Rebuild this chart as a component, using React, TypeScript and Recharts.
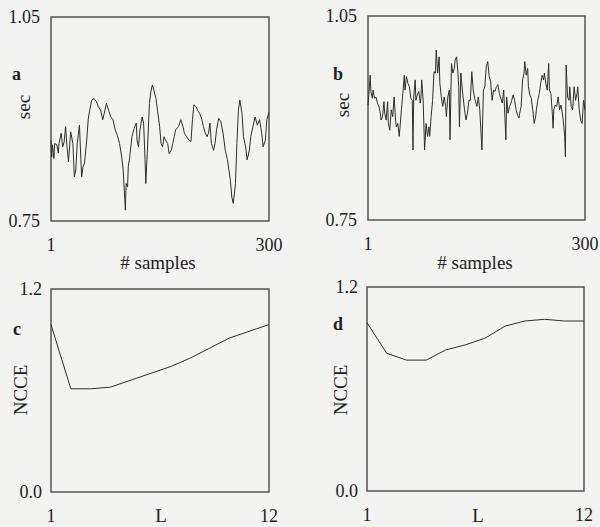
import React from "react";
import { LineChart, Line, XAxis, YAxis, ReferenceArea } from "recharts";

const FONT = '"Liberation Serif", "Times New Roman", serif';
const INK = "#2e2e2e";
const FRAME = "#555";

// panel a: interval (sec) vs sample number
const aSample = [
  1, 2, 3, 5, 6, 9, 11, 12, 15, 17, 19, 21, 23, 25, 28,
  31, 33, 35, 37, 40, 42, 43, 45, 47, 50, 52, 54, 57, 60, 63,
  66, 69, 72, 75, 77, 80, 83, 86, 89, 92, 95, 98, 100, 103, 104,
  106, 107, 109, 112, 115, 118, 119, 121, 123, 126, 128, 130, 131, 133, 136,
  138, 140, 142, 145, 147, 150, 152, 154, 156, 158, 161, 163, 166, 168, 170,
  172, 176, 179, 182, 184, 187, 190, 193, 195, 197, 200, 202, 205, 208, 210,
  212, 215, 217, 219, 221, 224, 226, 228, 231, 234, 237, 240, 243, 247, 249,
  251, 254, 256, 258, 260, 263, 265, 268, 270, 273, 275, 279, 281, 284, 287,
  290, 292, 295, 297, 300,
];
const aSec = [
  0.869, 0.844, 0.862, 0.842, 0.864, 0.862, 0.85, 0.864, 0.879, 0.859, 0.866, 0.889, 0.859, 0.837, 0.881,
  0.864, 0.815, 0.825, 0.864, 0.891, 0.84, 0.815, 0.83, 0.835, 0.869, 0.899, 0.913, 0.928, 0.93, 0.926,
  0.918, 0.913, 0.899, 0.913, 0.923, 0.913, 0.903, 0.899, 0.884, 0.876, 0.864, 0.844, 0.825, 0.766, 0.805,
  0.8, 0.83, 0.844, 0.874, 0.886, 0.894, 0.869, 0.859, 0.884, 0.903, 0.894, 0.84, 0.805, 0.849, 0.923,
  0.94, 0.95, 0.943, 0.93, 0.913, 0.889, 0.864, 0.859, 0.874, 0.869, 0.864, 0.849, 0.854, 0.864, 0.874,
  0.884, 0.889, 0.899, 0.889, 0.879, 0.874, 0.869, 0.867, 0.899, 0.921, 0.918, 0.913, 0.908, 0.899, 0.889,
  0.881, 0.874, 0.879, 0.894, 0.864, 0.854, 0.864, 0.884, 0.901, 0.896, 0.879, 0.854, 0.84, 0.81, 0.785,
  0.776, 0.805, 0.864, 0.913, 0.928, 0.908, 0.874, 0.859, 0.84, 0.854, 0.874, 0.894, 0.903, 0.891, 0.899,
  0.879, 0.859, 0.869, 0.899, 0.91,
];

// panel b
const bSample = [
  1, 3, 4, 5, 7, 8, 10, 12, 14, 16, 18, 19, 21, 23, 24,
  26, 28, 29, 31, 33, 35, 37, 39, 40, 42, 44, 45, 47, 49, 51,
  52, 54, 56, 58, 60, 62, 63, 64, 66, 67, 69, 71, 73, 74, 75,
  77, 79, 81, 83, 85, 86, 88, 90, 92, 94, 95, 97, 99, 100, 102,
  104, 106, 108, 109, 111, 113, 114, 116, 118, 120, 121, 123, 125, 126, 127,
  129, 131, 132, 134, 136, 138, 140, 142, 144, 146, 148, 151, 153, 155, 158,
  160, 162, 164, 166, 168, 170, 172, 174, 176, 178, 180, 182, 184, 186, 188,
  189, 191, 192, 194, 196, 198, 199, 201, 203, 205, 207, 209, 210, 212, 214,
  216, 217, 219, 221, 222, 224, 226, 228, 230, 232, 233, 235, 237, 239, 241,
  243, 244, 246, 248, 250, 251, 253, 255, 256, 257, 259, 261, 263, 265, 267,
  268, 270, 272, 273, 274, 276, 278, 279, 281, 283, 285, 287, 289, 290, 292,
  294, 296, 298, 300,
];
const bSec = [
  0.919, 0.946, 0.963, 0.939, 0.929, 0.941, 0.929, 0.931, 0.922, 0.917, 0.907, 0.897, 0.902, 0.924, 0.907,
  0.897, 0.924, 0.892, 0.882, 0.912, 0.902, 0.931, 0.897, 0.887, 0.892, 0.873, 0.885, 0.912, 0.936, 0.963,
  0.941, 0.961, 0.951, 0.946, 0.929, 0.926, 0.853, 0.931, 0.956, 0.926, 0.934, 0.939, 0.922, 0.931, 0.956,
  0.926, 0.853, 0.892, 0.873, 0.887, 0.873, 0.902, 0.926, 0.968, 0.966, 1.0, 0.966, 0.99, 0.951, 0.931,
  0.917, 0.931, 0.917, 0.902, 0.931, 0.941, 0.868, 0.98, 0.966, 0.973, 0.985, 0.99, 0.966, 0.946, 0.887,
  0.966, 0.941, 0.931, 0.912, 0.897, 0.907, 0.926, 0.926, 0.968, 0.941, 0.929, 0.917, 0.931, 0.912, 0.853,
  0.941, 0.946, 0.976, 0.983, 0.961, 0.953, 0.926, 0.941, 0.939, 0.946, 0.949, 0.936, 0.929, 0.922, 0.941,
  0.917, 0.868, 0.931, 0.907, 0.917, 0.922, 0.926, 0.934, 0.926, 0.912, 0.904, 0.9, 0.907, 0.917, 0.956,
  0.966, 0.983, 0.963, 0.973, 0.946, 0.934, 0.929, 0.912, 0.892, 0.902, 0.912, 0.926, 0.936, 0.951, 0.963,
  0.956, 0.966, 0.951, 0.941, 0.98, 0.941, 0.936, 0.907, 0.885, 0.912, 0.919, 0.917, 0.931, 0.912, 0.919,
  0.912, 0.897, 0.873, 0.843, 0.978, 0.931, 0.926, 0.946, 0.917, 0.912, 0.946, 0.926, 0.936, 0.946, 0.912,
  0.897, 0.892, 0.926, 0.912,
];

// panels c and d: NCCE vs L
const lags = [1, 2, 3, 4, 5, 6, 7, 8, 9, 10, 11, 12];
const ncceC = [0.99, 0.61, 0.61, 0.62, 0.66, 0.7, 0.74, 0.79, 0.85, 0.91, 0.95, 0.99];
const ncceD = [0.99, 0.81, 0.77, 0.77, 0.83, 0.86, 0.9, 0.97, 1.0, 1.01, 1.0, 1.0];

const sampleTicks = [1, 300];
const secTicks = [0.75, 1.05];
const lagTicks = [1, 12];
const ncceTicks = [0, 1.2];

const zip = (xs: number[], ys: number[]) => xs.map((x, i) => ({ x, y: ys[i] }));

const tickStyle = { fontSize: 18, fill: "#222", fontFamily: FONT, style: { fontFamily: FONT } };

type PanelProps = {
  left: number;
  top: number;
  width: number;
  height: number;
  box: [number, number, number, number]; // plot frame in page px: x0, y0, x1, y1
  data: { x: number; y: number }[];
  xDomain: [number, number];
  yDomain: [number, number];
  xTicks: number[];
  yTicks: number[];
  digits: number;
  yTickGap: number;
};

function Panel({ left, top, width, height, box, data, xDomain, yDomain, xTicks, yTicks, digits, yTickGap }: PanelProps) {
  return (
    <div style={{ position: "absolute", left, top, fontFamily: FONT }}>
      <LineChart
        width={width}
        height={height}
        data={data}
        style={{ fontFamily: FONT }}
        margin={{ top: box[1] - top, right: left + width - box[2], left: 0, bottom: 0 }}
      >
        <XAxis
          dataKey="x"
          type="number"
          domain={xDomain}
          ticks={xTicks}
          interval={0}
          height={top + height - box[3]}
          axisLine={false}
          tickLine={false}
          tickSize={0}
          tickMargin={17}
          tick={tickStyle}
        />
        <YAxis
          type="number"
          domain={yDomain}
          ticks={yTicks}
          interval={0}
          width={box[0] - left}
          axisLine={false}
          tickLine={false}
          tickSize={0}
          tickMargin={yTickGap}
          tick={tickStyle}
          tickFormatter={(v: number) => v.toFixed(digits)}
        />
        <ReferenceArea
          x1={xDomain[0]}
          x2={xDomain[1]}
          y1={yDomain[0]}
          y2={yDomain[1]}
          fill="none"
          stroke={FRAME}
          strokeWidth={1.5}
        />
        <Line dataKey="y" type="linear" stroke={INK} strokeWidth={1} dot={false} isAnimationActive={false} />
      </LineChart>
    </div>
  );
}

export default function App() {
  const txt = { fontFamily: FONT, fontSize: 19, fill: "#222" };
  const bold = { fontFamily: FONT, fontSize: 18, fill: "#222", fontWeight: 700 };
  return (
    <div style={{ position: "absolute", left: 0, top: 0, width: 600, height: 527, background: "#f3f3f1", overflow: "hidden", fontFamily: FONT }}>
      <Panel left={0} top={0} width={300} height={270} box={[51, 17, 269, 221]} data={zip(aSample, aSec)}
        xDomain={[1, 300]} yDomain={[0.75, 1.05]} xTicks={sampleTicks} yTicks={secTicks} digits={2} yTickGap={11} />
      <Panel left={300} top={0} width={300} height={270} box={[368, 16, 585, 220]} data={zip(bSample, bSec)}
        xDomain={[1, 300]} yDomain={[0.75, 1.05]} xTicks={sampleTicks} yTicks={secTicks} digits={2} yTickGap={11} />
      <Panel left={0} top={270} width={300} height={257} box={[51, 289, 269, 492]} data={zip(lags, ncceC)}
        xDomain={[1, 12]} yDomain={[0, 1.2]} xTicks={lagTicks} yTicks={ncceTicks} digits={1} yTickGap={9} />
      <Panel left={300} top={270} width={300} height={257} box={[367, 287, 584, 491]} data={zip(lags, ncceD)}
        xDomain={[1, 12]} yDomain={[0, 1.2]} xTicks={lagTicks} yTicks={ncceTicks} digits={1} yTickGap={9} />

      <svg width={600} height={527} style={{ position: "absolute", left: 0, top: 0, pointerEvents: "none" }}>
        <text x={12} y={80} {...bold}>a</text>
        <text x={333} y={80} {...bold}>b</text>
        <text x={13} y={335} {...bold}>c</text>
        <text x={333} y={330} {...bold}>d</text>

        <text transform="translate(30,107) rotate(-90)" textAnchor="middle" {...txt}>sec</text>
        <text transform="translate(349,105) rotate(-90)" textAnchor="middle" {...txt}>sec</text>
        <text transform="translate(27,390) rotate(-90)" textAnchor="middle" {...txt}>NCCE</text>
        <text transform="translate(347,390) rotate(-90)" textAnchor="middle" {...txt}>NCCE</text>

        <text x={158} y={269} textAnchor="middle" {...txt}># samples</text>
        <text x={475} y={269} textAnchor="middle" {...txt}># samples</text>
        <text x={161} y={522} textAnchor="middle" {...txt}>L</text>
        <text x={478} y={522} textAnchor="middle" {...txt}>L</text>
      </svg>
    </div>
  );
}
